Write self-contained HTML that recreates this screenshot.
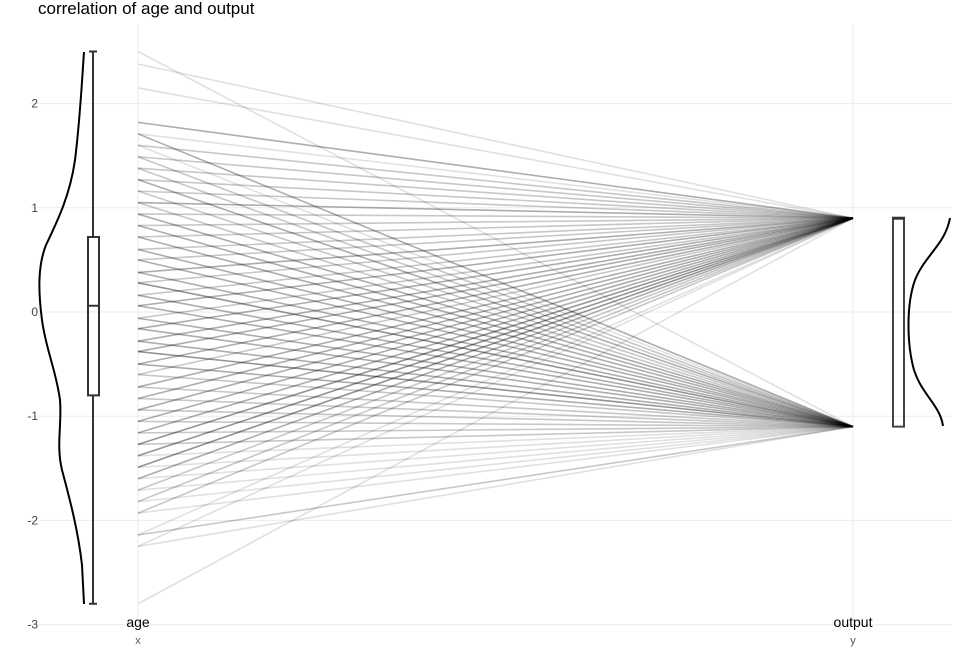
<!DOCTYPE html>
<html><head><meta charset="utf-8">
<style>
body{margin:0;background:#fff;font-family:"Liberation Sans",sans-serif;}
svg{display:block}
</style></head>
<body>
<svg id="chart" width="960" height="672">
<text x="38" y="14" font-size="17" fill="#000">correlation of age and output</text>
<g id="grid"></g>
<g id="lines"></g>
<g id="deco"></g>
<g id="axis"></g>
<text x="138" y="627" font-size="14" text-anchor="middle">age</text>
<text x="138" y="644" font-size="11" fill="#555" text-anchor="middle">x</text>
<text x="853" y="627" font-size="14" text-anchor="middle">output</text>
<text x="853" y="644" font-size="11" fill="#555" text-anchor="middle">y</text>
</svg>
<script>
const ages=[2.50,2.38,2.15,1.82,1.71,1.60,1.49,1.38,1.27,1.16,1.05,0.94,0.83,0.72,0.60,0.50,0.38,0.28,0.16,0.06,-0.06,-0.16,-0.28,-0.38,-0.50,-0.60,-0.72,-0.83,-0.94,-1.05,-1.16,-1.27,-1.38,-1.49,-1.60,-1.71,-1.82,-1.93,-2.14,-2.25,-2.80];
const hiCount=[0,1,1,3,1,2,2,2,2,2,3,2,2,2,2,2,3,2,2,3,2,3,3,3,3,2,3,3,3,3,3,4,4,4,3,2,2,2,1,1,1];
const loCount=[1,0,0,0,3,1,2,2,3,2,2,3,3,3,3,3,3,4,3,3,3,3,3,4,3,2,2,2,2,2,2,2,1,1,1,1,1,1,2,1,0];
const outputs=[0.9,-1.1];
const yTicks=[2,1,0,-1,-2,-3];
const NS="http://www.w3.org/2000/svg";
const y=v=>312-v*104.2;
const xL=138,xR=853;
function mk(tag,attrs,parent){const e=document.createElementNS(NS,tag);for(const k in attrs)e.setAttribute(k,attrs[k]);parent.appendChild(e);return e;}
const grid=document.getElementById('grid'),axis=document.getElementById('axis'),lines=document.getElementById('lines'),deco=document.getElementById('deco');
yTicks.forEach(t=>{
  const l=mk('line',{x1:30,x2:952,y1:y(t),y2:y(t),stroke:'#ebebeb','stroke-width':1},grid);
  
  
  const tx=mk('text',{x:38,y:y(t)+4,'font-size':12,fill:'#444','text-anchor':'end'},axis);
  tx.textContent=t;
  
  
});
[xL,xR].forEach(x=>{
  const l=mk('line',{x1:x,x2:x,y1:25,y2:625,stroke:'#ebebeb','stroke-width':1},grid);
  
  
});
ages.forEach((a,i)=>{
  [[outputs[0],hiCount[i]],[outputs[1],loCount[i]]].forEach(([o,c])=>{
    if(!c)return;
    const l=mk('line',{x1:xL,y1:y(a),x2:xR,y2:y(o),stroke:'#000','stroke-opacity':Math.min(0.6,0.02+c*0.1),'stroke-width':1.6},lines);
    
    
  });
});
let p=mk('path',{d:'M84,52 C82,80 80,120 75,160 C70,195 58,220 46,245 C38,265 38,290 42,320 C46,350 56,370 60,400 C62,425 56,445 62,470 C70,500 78,530 82,565 L84,604',fill:'none',stroke:'#000','stroke-width':2},deco);


const q=[2.50,0.72,0.06,-0.80,-2.80];
p=mk('path',{d:`M93,${y(q[0])}V${y(q[1])}M93,${y(q[3])}V${y(q[4])}M89,${y(q[0])}H97M89,${y(q[4])}H97M88,${y(q[2])}H99`,stroke:'#333','stroke-width':2,fill:'none'},deco);


p=mk('rect',{x:88,y:y(q[1]),width:11,height:y(q[3])-y(q[1]),fill:'none',stroke:'#333','stroke-width':2},deco);


p=mk('rect',{x:893,y:y(outputs[0]),width:11,height:y(outputs[1])-y(outputs[0]),fill:'none',stroke:'#444','stroke-width':2},deco);


p=mk('line',{x1:892,x2:905,y1:y(outputs[0]),y2:y(outputs[0]),stroke:'#333','stroke-width':3},deco);


p=mk('path',{d:'M950,218 C945,245 925,255 915,280 C906,305 907,345 914,370 C922,395 940,405 943,426',fill:'none',stroke:'#000','stroke-width':2},deco);


</script>
</body></html>
